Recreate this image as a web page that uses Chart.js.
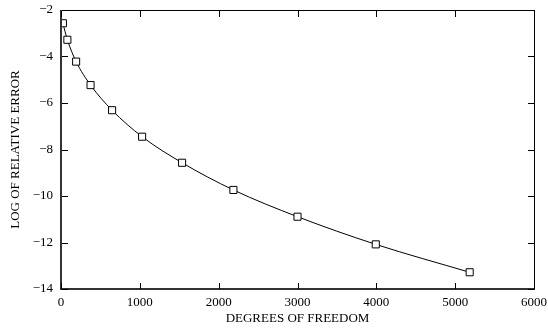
<!DOCTYPE html>
<html>
<head>
<meta charset="utf-8">
<script src="https://cdn.jsdelivr.net/npm/chart.js@4"></script>
<style>
  html, body { margin: 0; padding: 0; background: #fff; }
  #wrap { width: 548px; height: 331px; }
</style>
</head>
<body>
<div id="wrap"><canvas id="myChart"></canvas></div>
<script>
// degrees of freedom vs log of relative error
var dof = [24, 81, 192, 375, 648, 1029, 1536, 2187, 3000, 3993, 5184];
var logErr = [-2.57, -3.28, -4.22, -5.23, -6.31, -7.45, -8.57, -9.74, -10.89, -12.08, -13.28];
var xTicks = [0, 1000, 2000, 3000, 4000, 5000, 6000];
var yTicks = [-14, -12, -10, -8, -6, -4, -2];

Chart.defaults.font.family = "'Liberation Serif', 'Times New Roman', serif";
Chart.defaults.font.size = 13;
Chart.defaults.color = '#000';

// frame + inward ticks on all four sides (filled rects)
var frameTicks = {
    id: 'frameTicks',
    afterDraw: function (chart) {
        var g = chart.ctx;
        var a = chart.chartArea;
        var x = chart.scales.x, y = chart.scales.y;
        var len = 6;
        var l = Math.round(a.left), t = Math.round(a.top);
        var r = Math.round(a.right), b = Math.round(a.bottom);
        g.save();
        g.fillStyle = '#000';
        g.fillRect(l, t, r - l + 1, 1);
        g.fillRect(r, t, 1, b - t + 1);
        // left and bottom axes are a bit heavier in the original
        g.fillStyle = '#333';
        g.fillRect(l - 1, b - 1, r - l + 2, 2);
        g.fillRect(l - 1, t, 2, b - t + 1);
        g.fillStyle = '#000';
        xTicks.forEach(function (v) {
            var px = Math.round(x.getPixelForValue(v));
            g.fillRect(px, b - len, 1, len);
            g.fillRect(px, t + 1, 1, len);
        });
        yTicks.forEach(function (v) {
            var py = Math.round(y.getPixelForValue(v));
            g.fillRect(l + 1, py, len, 1);
            g.fillRect(r - len, py, len, 1);
        });
        g.restore();
    }
};

var points = dof.map(function (d, i) { return { x: d, y: logErr[i] }; });

var el = document.getElementById('myChart');
new Chart(el, {
    type: 'line',
    data: {
        datasets: [{
            data: points,
            borderColor: '#000',
            borderWidth: 1,
            cubicInterpolationMode: 'monotone',
            pointStyle: 'rect',
            pointRadius: 5,
            pointBorderWidth: 1,
            pointBorderColor: '#000',
            pointBackgroundColor: '#fff',
            fill: false
        }]
    },
    options: {
        responsive: true,
        maintainAspectRatio: false,
        animation: false,
        layout: { padding: { left: 0, right: 14, top: 10, bottom: 0 } },
        plugins: { legend: { display: false }, tooltip: { enabled: false } },
        scales: {
            x: {
                type: 'linear',
                min: 0, max: 6000,
                afterBuildTicks: function (s) { s.ticks = xTicks.map(function (v) { return { value: v }; }); },
                afterFit: function (s) { s.height = 42; s.paddingLeft = 0; s.paddingRight = 0; },
                grid: { display: false, drawTicks: false },
                border: { display: false },
                ticks: {
                    padding: 6, maxRotation: 0,
                    callback: function (v) { return String(v); }
                },
                title: { display: true, text: 'DEGREES OF FREEDOM', padding: { top: 0, bottom: 5 } }
            },
            y: {
                type: 'linear',
                min: -14, max: -2,
                afterBuildTicks: function (s) { s.ticks = yTicks.map(function (v) { return { value: v }; }); },
                afterFit: function (s) { s.width = 61; s.paddingTop = 0; s.paddingBottom = 0; },
                grid: { display: false, drawTicks: false },
                border: { display: false },
                ticks: {
                    padding: 8,
                    callback: function (v) { return String(v).replace('-', '\u2212'); }
                },
                title: { display: true, text: 'LOG OF RELATIVE ERROR', padding: { top: 8, bottom: 0 } }
            }
        }
    },
    plugins: [frameTicks]
});
</script>
</body>
</html>
